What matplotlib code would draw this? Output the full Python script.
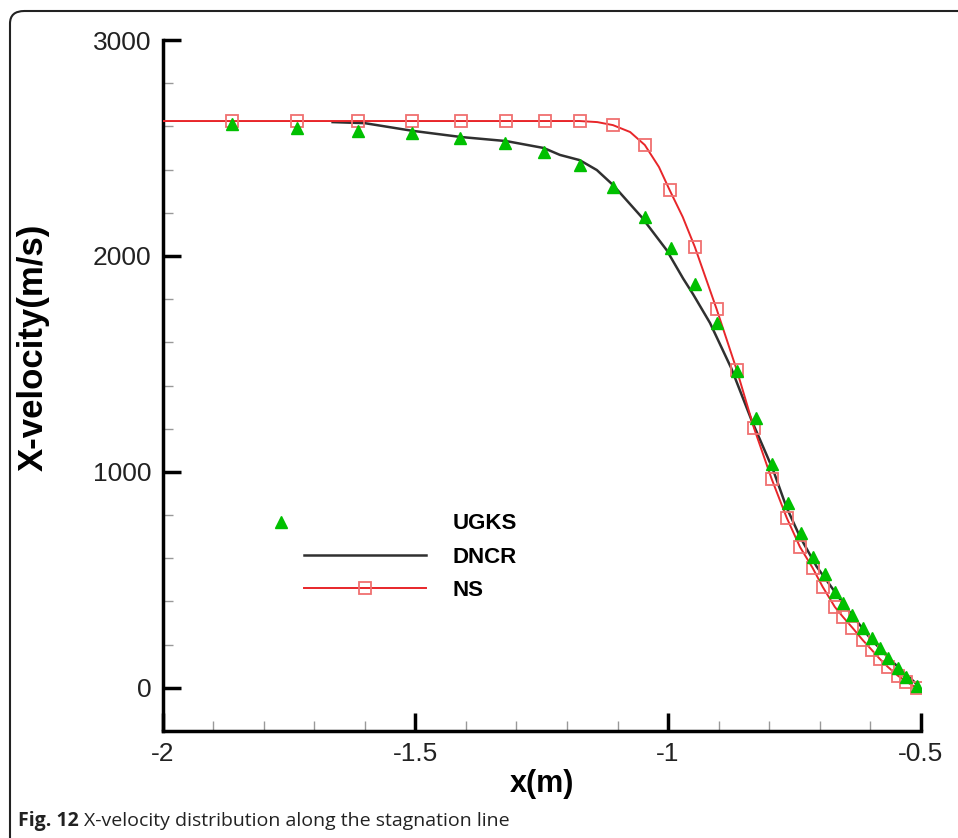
"""
X-velocity distribution along the stagnation line (Fig. 12)
UGKS symbols, DNCR line, NS line with square symbols
"""
import numpy as np
import matplotlib
matplotlib.use('Agg')
import matplotlib.pyplot as plt
from matplotlib.ticker import MultipleLocator, FuncFormatter
from matplotlib.lines import Line2D
from matplotlib.patches import FancyBboxPatch
from matplotlib.legend_handler import HandlerLine2D

#### data
ugks_x = [-1.863, -1.734, -1.614, -1.507, -1.412, -1.323, -1.246, -1.175,
          -1.109, -1.046, -0.995, -0.947, -0.904, -0.864, -0.826, -0.795,
          -0.763, -0.737, -0.714, -0.690, -0.670, -0.654, -0.635, -0.615,
          -0.597, -0.581, -0.565, -0.545, -0.528, -0.508]
ugks_v = [2611, 2593, 2579, 2569, 2546, 2523, 2481, 2421,
          2319, 2181, 2037, 1870, 1690, 1468, 1250, 1037,
          856, 718, 606, 528, 444, 394, 338, 278,
          231, 185, 139, 93, 51, 9]

dncr_x = [-1.664, -1.600, -1.507, -1.410, -1.320, -1.246, -1.214, -1.175,
          -1.141, -1.109, -1.053, -1.003, -0.970, -0.951, -0.917, -0.875,
          -0.835, -0.792, -0.766, -0.739, -0.706, -0.650, -0.600, -0.560,
          -0.500]
dncr_v = [2620, 2615, 2580, 2551, 2532, 2500, 2468, 2444,
          2398, 2329, 2182, 2028, 1895, 1825, 1690, 1481,
          1241, 1009, 839, 700, 562, 380, 230, 130,
          0]

# NS line (drawn) and NS symbols
ns_line_x = [-2.0, -1.175, -1.140, -1.109, -1.075, -1.046, -1.018, -0.997,
             -0.971, -0.947, -0.904, -0.864, -0.830, -0.795, -0.765, -0.739,
             -0.714, -0.694, -0.670, -0.654, -0.635, -0.615, -0.597, -0.581,
             -0.565, -0.545, -0.528, -0.508]
ns_line_v = [2625, 2625, 2620, 2606, 2574, 2514, 2412, 2306,
             2181, 2042, 1755, 1472, 1204, 968, 787, 653,
             556, 468, 375, 329, 278, 222, 176, 134,
             97, 56, 28, 0]
ns_x = [-1.863, -1.734, -1.614, -1.507, -1.410, -1.321, -1.244, -1.175,
        -1.109, -1.046, -0.997, -0.947, -0.904, -0.864, -0.830, -0.795,
        -0.765, -0.739, -0.714, -0.694, -0.670, -0.654, -0.635, -0.615,
        -0.597, -0.581, -0.565, -0.545, -0.528, -0.508]
ns_v = [2625, 2625, 2625, 2625, 2625, 2625, 2625, 2625,
        2606, 2514, 2306, 2042, 1755, 1472, 1204, 968,
        787, 653, 556, 468, 375, 329, 278, 222,
        176, 134, 97, 56, 28, 0]

x_ticks = [-2, -1.5, -1, -0.5]
y_ticks = [0, 1000, 2000, 3000]

GREEN = '#00c000'
RED = '#e8262a'
SQ_RED = '#f07070'
DARK = '#303030'


class LeftMarkerHandler(HandlerLine2D):
    """
    put the single marker a bit left of the line handles (tecplot style)
    """
    def create_artists(self, *args, **kwargs):
        arts = super().create_artists(*args, **kwargs)
        line = arts[0]
        x = np.asarray(line.get_xdata(), dtype=float)
        w = x[-1] - x[0]
        line.set_xdata(x - x[1] + x[0] - 0.19 * w)
        return arts


plt.rcParams['font.family'] = ['Liberation Sans', 'DejaVu Sans']

fig = plt.figure(figsize=(9.58, 8.38), dpi=100)
ax = fig.add_axes([0.170, 0.1277, 0.791, 0.8245])

### curves
ax.plot(dncr_x, dncr_v, '-', color=DARK, lw=1.8, zorder=2)
ax.plot(ns_line_x, ns_line_v, '-', color=RED, lw=1.4, zorder=3)
ax.plot(ns_x, ns_v, 's', mfc='none', mec=SQ_RED, mew=1.3, ms=9, zorder=4)
ax.plot(ugks_x, ugks_v, '^', color=GREEN, mec=GREEN, ms=8, zorder=5,
        ls='none')

### axes limits / ticks
ax.set_xlim(-2, -0.5)
ax.set_ylim(-200, 3000)
ax.set_xticks(x_ticks)
ax.set_yticks(y_ticks)
ax.xaxis.set_minor_locator(MultipleLocator(0.1))
ax.yaxis.set_minor_locator(MultipleLocator(200))
fmt = FuncFormatter(lambda v, p: '%g' % v)
ax.xaxis.set_major_formatter(fmt)
ax.yaxis.set_major_formatter(fmt)

for s in ['top', 'right']:
    ax.spines[s].set_visible(False)
for s in ['left', 'bottom']:
    ax.spines[s].set_linewidth(2.5)
    ax.spines[s].set_color('black')

ax.tick_params(which='major', direction='in', length=13, width=2.5,
               labelsize=19, pad=8, colors='black', labelcolor='#222222')
ax.tick_params(which='minor', direction='in', length=7, width=1.0,
               color='#999999')

ax.set_xlabel('x(m)', fontsize=22, fontweight='bold', labelpad=2)
ax.set_ylabel('X-velocity(m/s)', fontsize=25, fontweight='bold')
ax.yaxis.set_label_coords(-0.149, 0.556)

### legend
handles = [
    Line2D([], [], ls='none', marker='^', color=GREEN, ms=8),
    Line2D([], [], ls='-', color=DARK, lw=1.8),
    Line2D([], [], ls='-', color=RED, lw=1.4, marker='s', mfc='none',
           mec=SQ_RED, mew=1.3, ms=9),
]
leg = ax.legend(handles, ['UGKS', 'DNCR', 'NS'], loc='upper left',
                bbox_to_anchor=(0.16, 0.344), frameon=False,
                prop={'weight': 'bold', 'size': 16}, handlelength=5.5,
                handletextpad=1.2, labelspacing=0.55, numpoints=1,
                handler_map={handles[0]: LeftMarkerHandler()})

### border and caption
border = FancyBboxPatch((10 / 958, -0.05), 1.2, 1.05 - 11 / 838,
                        boxstyle='round,pad=0,rounding_size=0.015',
                        transform=fig.transFigure, fill=False,
                        ec='#222222', lw=1.5, clip_on=False)
fig.patches.append(border)
cap_y = 1 - 826 / 838
t1 = fig.text(18 / 958, cap_y, 'Fig. 12', fontsize=14, fontweight='bold',
              family=['Open Sans', 'DejaVu Sans'], color='#222222',
              va='baseline')
fig.canvas.draw()
bb = t1.get_window_extent(renderer=fig.canvas.get_renderer())
fig.text((bb.x1 + 5) / fig.bbox.width, cap_y,
         'X-velocity distribution along the stagnation line', fontsize=14,
         family=['Open Sans', 'DejaVu Sans'], color='#222222',
         va='baseline')

fig.savefig('out.png', dpi=100)
